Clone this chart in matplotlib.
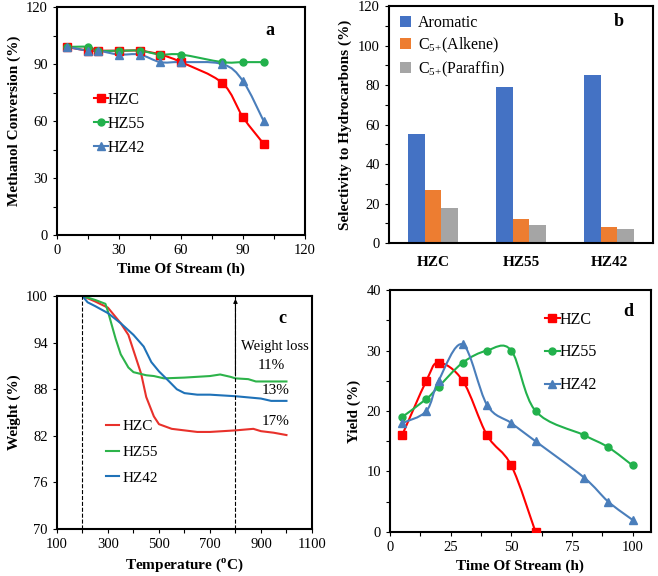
import numpy as np
import matplotlib
matplotlib.use('Agg')
import matplotlib.pyplot as plt
from matplotlib.path import Path
from matplotlib.patches import PathPatch
from matplotlib.lines import Line2D
from matplotlib.ticker import MultipleLocator

plt.rcParams['font.family'] = ['Liberation Serif', 'DejaVu Serif']
plt.rcParams['font.size'] = 10
plt.rcParams['mathtext.fontset'] = 'custom'
plt.rcParams['mathtext.rm'] = 'Liberation Serif'

# ---- dados ----
# (a) conversao de metanol
tempo_a = [5, 15, 20, 30, 40, 50, 60, 80, 90, 100]
conv_hzc = [99, 97, 97, 97, 97, 95, 91, 80, 62, 48]
conv_hz55 = [99, 99, 97, 97, 97, 95, 95, 91, 91, 91]
conv_hz42 = [99, 97, 97, 95, 95, 91, 91, 90, 81, 60]

# (b) seletividade
catalisadores = ['HZC', 'HZ55', 'HZ42']
aromatico = [55, 79, 85]
alceno = [27, 12, 8]
parafina = [18, 9, 7]

# (c) TGA
temp_hzc = [200, 250, 300, 350, 380, 400, 430, 450, 480, 500, 550, 600, 650, 700, 800, 870, 900, 950, 1000]
peso_hzc = [100, 99.3, 98.5, 96.5, 95.0, 93.0, 90.0, 87.0, 84.5, 83.5, 82.9, 82.7, 82.5, 82.5, 82.7, 82.9, 82.6, 82.4, 82.1]
temp_hz55 = [200, 250, 290, 300, 330, 350, 380, 400, 450, 480, 520, 600, 700, 740, 780, 800, 850, 880, 1000]
peso_hz55 = [100, 99.5, 99.0, 98.0, 94.5, 92.5, 90.8, 90.2, 89.8, 89.7, 89.4, 89.5, 89.7, 89.9, 89.6, 89.4, 89.3, 89.0, 89.0]
temp_hz42 = [200, 220, 250, 300, 350, 400, 440, 470, 500, 540, 570, 600, 650, 700, 800, 900, 940, 1000]
peso_hz42 = [100, 99.2, 98.7, 97.8, 96.5, 95.0, 93.5, 91.5, 90.3, 89.0, 88.0, 87.5, 87.3, 87.3, 87.1, 86.8, 86.5, 86.5]

# (d) rendimento
tempo_d_hzc = [5, 15, 20, 30, 40, 50, 60]
rend_hzc = [16, 25, 28, 25, 16, 11, 0]
tempo_d = [5, 15, 20, 30, 40, 50, 60, 80, 90, 100]
rend_hz55 = [19, 22, 24, 28, 30, 30, 20, 16, 14, 11]
rend_hz42 = [18, 20, 25, 31, 21, 18, 15, 9, 5, 2]

vermelho = '#FF0000'
verde = '#22B14C'
azul = '#4A7EBB'

TAM_EIXO = 11
TAM_LEG = 11.5


def linha_suave(ax, x, y, cor, lw=1.5):
    # curva suavizada estilo Excel (Catmull-Rom em Bezier)
    p = np.column_stack([x, y]).astype(float)
    n = len(p)
    verts = [p[0]]
    codes = [Path.MOVETO]
    for i in range(n - 1):
        p0 = p[i - 1] if i > 0 else p[i]
        p3 = p[i + 2] if i + 2 < n else p[i + 1]
        c1 = p[i] + (p[i + 1] - p0) / 6
        c2 = p[i + 1] - (p3 - p[i]) / 6
        verts += [c1, c2, p[i + 1]]
        codes += [Path.CURVE4] * 3
    ax.add_patch(PathPatch(Path(verts, codes), fill=False, edgecolor=cor, lw=lw, zorder=2))


def estilo(ax):
    for s in ax.spines.values():
        s.set_linewidth(1.5)
    ax.tick_params(which='both', direction='out', length=3, width=0.8, labelsize=10.5)


fig = plt.figure(figsize=(6.58, 5.76), dpi=100)

# ---- (a) ----
ax = fig.add_axes([0.0866, 0.592, 0.3769, 0.3958])
for y, cor, mk, ms in [(conv_hzc, vermelho, 's', 6), (conv_hz55, verde, 'o', 5), (conv_hz42, azul, '^', 6)]:
    linha_suave(ax, tempo_a, y, cor)
    ax.plot(tempo_a, y, ls='none', marker=mk, color=cor, ms=ms, zorder=3)
ax.set_xlim(0, 120)
ax.set_ylim(0, 120)
ax.xaxis.set_major_locator(MultipleLocator(30))
ax.xaxis.set_minor_locator(MultipleLocator(15))
ax.yaxis.set_major_locator(MultipleLocator(30))
ax.yaxis.set_minor_locator(MultipleLocator(15))
ax.set_xlabel('Time Of Stream (h)', fontweight='bold', fontsize=TAM_EIXO)
ax.set_ylabel('Methanol Conversion (%)', fontweight='bold', fontsize=TAM_EIXO)
ax.text(0.86, 0.895, 'a', transform=ax.transAxes, fontweight='bold', fontsize=13, ha='center', va='center')
hand = [Line2D([], [], color=vermelho, marker='s', ms=6, lw=1.5),
        Line2D([], [], color=verde, marker='o', ms=5, lw=1.5),
        Line2D([], [], color=azul, marker='^', ms=6, lw=1.5)]
ax.legend(hand, ['HZC', 'HZ55', 'HZ42'], loc='upper left', bbox_to_anchor=(0.09, 0.69),
          frameon=False, handlelength=0.9, handletextpad=0.0, labelspacing=0.5, fontsize=TAM_LEG)
estilo(ax)

# ---- (b) ----
ax = fig.add_axes([0.591, 0.578, 0.4014, 0.4115])
x = np.arange(len(catalisadores))
w = 0.19
ax.bar(x - w, aromatico, w, color='#4472C4', label='Aromatic')
ax.bar(x, alceno, w, color='#ED7D31', label='C$_{\\mathregular{5{+}}}$(Alkene)')
ax.bar(x + w, parafina, w, color='#A5A5A5', label='C$_{\\mathregular{5{+}}}$(Paraffin)')
ax.set_xlim(-0.5, 2.5)
ax.set_ylim(0, 120)
ax.set_xticks(x)
ax.yaxis.set_major_locator(MultipleLocator(20))
ax.yaxis.set_minor_locator(MultipleLocator(10))
ax.set_ylabel('Selectivity to Hydrocarbons (%)', fontweight='bold', fontsize=TAM_EIXO)
ax.text(0.87, 0.935, 'b', transform=ax.transAxes, fontweight='bold', fontsize=13, ha='center', va='center')
ax.legend(loc='upper left', bbox_to_anchor=(0.0, 1.01), frameon=False, handlelength=0.7, handleheight=0.7,
          handletextpad=0.4, labelspacing=0.3, fontsize=TAM_LEG, borderaxespad=0.3)
estilo(ax)
ax.set_xticklabels(catalisadores, fontweight='bold', fontsize=11)
ax.tick_params(axis='x', which='both', length=0, pad=9)

# ---- (c) ----
ax = fig.add_axes([0.0866, 0.0816, 0.3875, 0.4044])
ax.plot(temp_hzc, peso_hzc, color='#E8312B', lw=1.5, label='HZC')
ax.plot(temp_hz55, peso_hz55, color='#2DB34A', lw=1.5, label='HZ55')
ax.plot(temp_hz42, peso_hz42, color='#1F72B8', lw=1.5, label='HZ42')
ax.axvline(200, color='black', ls='--', lw=0.8)
ax.axvline(800, color='black', ls='--', lw=0.8)
ax.annotate('', xy=(800, 100), xytext=(800, 89.5),
            arrowprops=dict(arrowstyle='-|>', color='black', lw=0.8, mutation_scale=6))
ax.set_xlim(100, 1100)
ax.set_ylim(70, 100)
ax.set_xticks(range(100, 1101, 200))
ax.xaxis.set_minor_locator(MultipleLocator(100))
ax.set_yticks(range(70, 101, 6))
ax.set_xlabel('Temperature ($^{\\mathregular{o}}$C)', fontweight='bold', fontsize=TAM_EIXO)
ax.set_ylabel('Weight (%)', fontweight='bold', fontsize=TAM_EIXO)
ax.text(985, 97.1, 'c', fontweight='bold', fontsize=13, ha='center', va='center')
ax.text(954, 93.45, 'Weight loss', fontsize=10.5, ha='center', va='center')
ax.text(939, 91.0, '11%', fontsize=11, ha='center', va='center')
ax.text(959, 87.8, '13%', fontsize=11, ha='center', va='center')
ax.text(959, 83.9, '17%', fontsize=11, ha='center', va='center')
ax.legend(loc='upper left', bbox_to_anchor=(0.14, 0.53), frameon=False, handlelength=0.8,
          handletextpad=0.25, labelspacing=0.8, fontsize=11)
estilo(ax)

# ---- (d) ----
ax = fig.add_axes([0.5927, 0.0764, 0.3963, 0.4201])
for xs, y, cor, mk, ms in [(tempo_d_hzc, rend_hzc, vermelho, 's', 6), (tempo_d, rend_hz55, verde, 'o', 5),
                           (tempo_d, rend_hz42, azul, '^', 6)]:
    linha_suave(ax, xs, y, cor)
    ax.plot(xs, y, ls='none', marker=mk, color=cor, ms=ms, zorder=3)
ax.set_xlim(0, 107.5)
ax.set_ylim(0, 40)
ax.xaxis.set_major_locator(MultipleLocator(25))
ax.xaxis.set_minor_locator(MultipleLocator(12.5))
ax.yaxis.set_major_locator(MultipleLocator(10))
ax.yaxis.set_minor_locator(MultipleLocator(5))
ax.set_xlabel('Time Of Stream (h)', fontweight='bold', fontsize=TAM_EIXO)
ax.set_ylabel('Yield (%)', fontweight='bold', fontsize=TAM_EIXO)
ax.text(0.915, 0.91, 'd', transform=ax.transAxes, fontweight='bold', fontsize=13, ha='center', va='center')
ax.legend(hand, ['HZC', 'HZ55', 'HZ42'], loc='upper left', bbox_to_anchor=(0.54, 0.97),
          frameon=False, handlelength=0.9, handletextpad=0.0, labelspacing=1.05, fontsize=TAM_LEG)
estilo(ax)

fig.savefig('out.png', dpi=100)
